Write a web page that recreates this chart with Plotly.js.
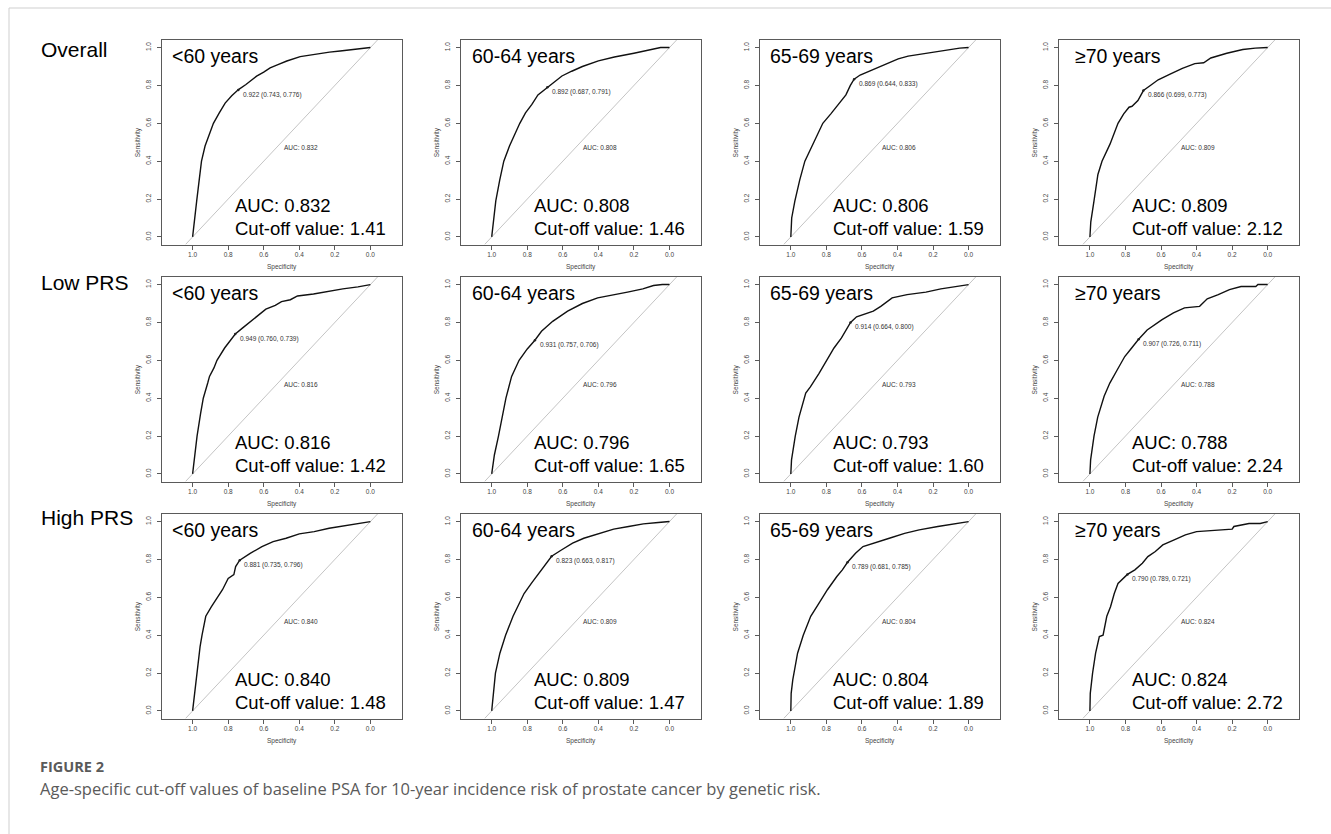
<!DOCTYPE html>
<html>
<head>
<meta charset="utf-8">
<script src="https://cdn.plot.ly/plotly-3.0.1.min.js"></script>
<style>
html,body{margin:0;padding:0;background:#fff;}
#chart{width:1331px;height:834px;}
</style>
</head>
<body>
<div id="chart"></div>
<script>
// ---------------- DATA ----------------
const rowLabels = ["Overall", "Low PRS", "High PRS"];
const ageGroups = ["<60 years", "60-64 years", "65-69 years", "\u226570 years"];
const aucValues = [
  [0.832, 0.808, 0.806, 0.809],
  [0.816, 0.796, 0.793, 0.788],
  [0.840, 0.809, 0.804, 0.824]
];
const cutoffValues = [
  ["1.41", "1.46", "1.59", "2.12"],
  ["1.42", "1.65", "1.60", "2.24"],
  ["1.48", "1.47", "1.89", "2.72"]
];
const thresholdValues = [
  [0.922, 0.892, 0.869, 0.866],
  [0.949, 0.931, 0.914, 0.907],
  [0.881, 0.823, 0.789, 0.790]
];
const thresholdSpec = [
  [0.743, 0.687, 0.644, 0.699],
  [0.760, 0.757, 0.664, 0.726],
  [0.735, 0.663, 0.681, 0.789]
];
const thresholdSens = [
  [0.776, 0.791, 0.833, 0.773],
  [0.739, 0.706, 0.800, 0.711],
  [0.796, 0.817, 0.785, 0.721]
];
const xTickValues = [1.0, 0.8, 0.6, 0.4, 0.2, 0.0];
const xTickLabels = ["1.0", "0.8", "0.6", "0.4", "0.2", "0.0"];
const yTickValues = [0.0, 0.2, 0.4, 0.6, 0.8, 1.0];
const yTickLabels = ["0.0", "0.2", "0.4", "0.6", "0.8", "1.0"];

// ROC curves (specificity, sensitivity)
const overall_lt60_spec = [1.0,0.992,0.977,0.963,0.95,0.93,0.905,0.883,0.85,0.817,0.78,0.742,0.70,0.64,0.60,0.564,0.52,0.47,0.395,0.30,0.23,0.17,0.10,0.04,0.0];
const overall_lt60_sens = [0.0,0.08,0.19,0.30,0.40,0.48,0.55,0.60,0.655,0.707,0.745,0.778,0.805,0.849,0.87,0.893,0.91,0.929,0.952,0.968,0.976,0.982,0.99,0.995,1.0];

const overall_6064_spec = [1.0,0.99,0.977,0.955,0.932,0.90,0.87,0.842,0.81,0.774,0.74,0.687,0.65,0.605,0.55,0.49,0.40,0.31,0.20,0.13,0.085,0.05,0.0];
const overall_6064_sens = [0.0,0.08,0.19,0.30,0.40,0.48,0.545,0.60,0.655,0.70,0.75,0.791,0.82,0.85,0.875,0.90,0.93,0.95,0.97,0.985,0.995,1.0,1.0];

const overall_6569_spec = [1.0,0.995,0.977,0.95,0.921,0.876,0.82,0.775,0.735,0.69,0.665,0.644,0.61,0.55,0.50,0.44,0.396,0.34,0.27,0.20,0.11,0.05,0.0];
const overall_6569_sens = [0.0,0.10,0.19,0.30,0.40,0.49,0.60,0.65,0.70,0.75,0.80,0.833,0.855,0.88,0.90,0.925,0.94,0.955,0.965,0.975,0.99,0.997,1.0];

const overall_ge70_spec = [1.0,0.995,0.977,0.955,0.932,0.887,0.842,0.81,0.78,0.763,0.73,0.699,0.66,0.616,0.549,0.48,0.41,0.36,0.32,0.23,0.14,0.07,0.0];
const overall_ge70_sens = [0.0,0.08,0.19,0.33,0.40,0.49,0.60,0.65,0.685,0.69,0.72,0.773,0.80,0.83,0.86,0.89,0.915,0.92,0.945,0.97,0.99,0.997,1.0];

const low_lt60_spec = [1.0,0.99,0.975,0.955,0.94,0.915,0.905,0.88,0.863,0.82,0.79,0.76,0.72,0.693,0.64,0.588,0.535,0.50,0.45,0.41,0.32,0.24,0.155,0.07,0.0];
const low_lt60_sens = [0.0,0.08,0.20,0.32,0.40,0.48,0.515,0.56,0.60,0.665,0.70,0.739,0.77,0.79,0.83,0.87,0.89,0.91,0.92,0.94,0.95,0.965,0.977,0.988,1.0];

const low_6064_spec = [1.0,0.985,0.962,0.94,0.92,0.888,0.846,0.80,0.757,0.72,0.657,0.573,0.49,0.404,0.32,0.236,0.15,0.09,0.04,0.0];
const low_6064_sens = [0.0,0.10,0.20,0.30,0.40,0.515,0.60,0.66,0.706,0.753,0.806,0.86,0.90,0.93,0.947,0.96,0.977,0.995,1.0,1.0];

const low_6569_spec = [1.0,0.996,0.975,0.954,0.916,0.89,0.842,0.80,0.757,0.715,0.664,0.63,0.60,0.536,0.494,0.43,0.346,0.24,0.156,0.07,0.0];
const low_6569_sens = [0.0,0.074,0.20,0.30,0.427,0.46,0.53,0.60,0.665,0.718,0.80,0.83,0.84,0.86,0.885,0.93,0.947,0.96,0.977,0.99,1.0];

const low_ge70_spec = [1.0,0.996,0.977,0.956,0.92,0.888,0.846,0.804,0.773,0.726,0.678,0.594,0.53,0.468,0.383,0.34,0.278,0.215,0.15,0.067,0.055,0.0];
const low_ge70_sens = [0.0,0.074,0.20,0.30,0.41,0.48,0.55,0.62,0.656,0.711,0.76,0.815,0.85,0.877,0.885,0.925,0.947,0.973,0.99,0.99,1.0,1.0];

const high_lt60_spec = [1.0,0.99,0.979,0.958,0.947,0.926,0.895,0.863,0.832,0.80,0.768,0.758,0.735,0.674,0.61,0.547,0.474,0.40,0.316,0.232,0.147,0.063,0.0];
const high_lt60_sens = [0.0,0.08,0.20,0.34,0.40,0.50,0.55,0.595,0.64,0.70,0.72,0.762,0.796,0.833,0.868,0.894,0.912,0.935,0.947,0.965,0.977,0.988,1.0];

const high_6064_spec = [1.0,0.99,0.979,0.954,0.922,0.88,0.818,0.776,0.734,0.70,0.663,0.608,0.545,0.482,0.398,0.314,0.23,0.147,0.063,0.0];
const high_6064_sens = [0.0,0.08,0.20,0.305,0.40,0.50,0.62,0.675,0.727,0.77,0.817,0.85,0.886,0.912,0.938,0.96,0.974,0.988,0.995,1.0];

const high_6569_spec = [1.0,0.998,0.989,0.962,0.93,0.888,0.836,0.794,0.741,0.71,0.681,0.636,0.594,0.53,0.446,0.36,0.278,0.173,0.088,0.0];
const high_6569_sens = [0.0,0.093,0.164,0.305,0.40,0.50,0.577,0.64,0.71,0.745,0.785,0.833,0.868,0.886,0.912,0.938,0.956,0.974,0.988,1.0];

const high_ge70_spec = [1.0,0.998,0.985,0.968,0.947,0.926,0.905,0.884,0.863,0.842,0.789,0.747,0.705,0.674,0.632,0.59,0.526,0.463,0.40,0.30,0.20,0.19,0.105,0.042,0.0];
const high_ge70_sens = [0.0,0.093,0.20,0.305,0.393,0.40,0.50,0.55,0.62,0.673,0.721,0.745,0.78,0.815,0.842,0.877,0.903,0.93,0.947,0.953,0.96,0.974,0.99,0.99,1.0];

const curveSpec = [
  [overall_lt60_spec, overall_6064_spec, overall_6569_spec, overall_ge70_spec],
  [low_lt60_spec, low_6064_spec, low_6569_spec, low_ge70_spec],
  [high_lt60_spec, high_6064_spec, high_6569_spec, high_ge70_spec]
];
const curveSens = [
  [overall_lt60_sens, overall_6064_sens, overall_6569_sens, overall_ge70_sens],
  [low_lt60_sens, low_6064_sens, low_6569_sens, low_ge70_sens],
  [high_lt60_sens, high_6064_sens, high_6569_sens, high_ge70_sens]
];

// ---------------- LAYOUT ----------------
const W = 1331, H = 834;
const boxLeft0 = 161.5, colStep = 299.1, boxW = 240;
const boxTop0 = 40, rowStep = 237, boxH = 204.5;
const xRange = [1.175, -0.175];
const yRange = [-0.04, 1.04];
const titleX = [1.125, 1.12, 1.13, 1.095];

const FONT = "Liberation Sans, Arial, sans-serif";
const traces = [];
const annotations = [];
const layout = {
  width: W, height: H,
  margin: {l: 0, r: 0, t: 0, b: 0},
  paper_bgcolor: "#fff", plot_bgcolor: "#fff",
  showlegend: false,
  font: {family: FONT, color: "#333"},
  shapes: [
    {type: "line", xref: "paper", yref: "paper", x0: 9/W, x1: 1, y0: 1 - 8/H, y1: 1 - 8/H, line: {color: "#cfcfcf", width: 1}},
    {type: "line", xref: "paper", yref: "paper", x0: 9/W, x1: 9/W, y0: 1 - 8/H, y1: 0, line: {color: "#cfcfcf", width: 1}}
  ]
};

for (let r = 0; r < 3; r++) {
  for (let c = 0; c < 4; c++) {
    const i = r * 4 + c + 1;
    const xa = "x" + (i === 1 ? "" : i), ya = "y" + (i === 1 ? "" : i);
    const xk = "xaxis" + (i === 1 ? "" : i), yk = "yaxis" + (i === 1 ? "" : i);
    const left = boxLeft0 + colStep * c, top = boxTop0 + rowStep * r;
    layout[xk] = {
      domain: [left / W, (left + boxW) / W],
      anchor: ya, range: xRange, autorange: false,
      tickvals: xTickValues, ticktext: xTickLabels,
      showline: true, mirror: true, linecolor: "#5a5a5a", linewidth: 1,
      ticks: "outside", ticklen: 4, tickcolor: "#5a5a5a", tickwidth: 1,
      tickfont: {size: 6.5, color: "#444", family: FONT},
      showgrid: false, zeroline: false, fixedrange: true
    };
    layout[yk] = {
      domain: [1 - (top + boxH) / H, 1 - top / H],
      anchor: xa, range: yRange, autorange: false,
      tickvals: yTickValues, ticktext: yTickLabels, tickangle: -90,
      showline: true, mirror: true, linecolor: "#5a5a5a", linewidth: 1,
      ticks: "outside", ticklen: 4, tickcolor: "#5a5a5a", tickwidth: 1,
      ticklabelstandoff: 3,
      tickfont: {size: 6.5, color: "#444", family: FONT},
      showgrid: false, zeroline: false, fixedrange: true
    };
    // diagonal reference line y = 1 - x across the plotting region
    traces.push({
      x: [1 - yRange[0], 1 - yRange[1]], y: [yRange[0], yRange[1]],
      xaxis: xa, yaxis: ya, mode: "lines", hoverinfo: "skip",
      line: {color: "#c4c4c4", width: 1}
    });
    // ROC curve
    traces.push({
      x: curveSpec[r][c], y: curveSens[r][c],
      xaxis: xa, yaxis: ya, mode: "lines",
      line: {color: "#111", width: 1.4}
    });
    // best threshold point
    traces.push({
      x: [thresholdSpec[r][c]], y: [thresholdSens[r][c]],
      xaxis: xa, yaxis: ya, mode: "markers",
      marker: {color: "#222", size: 2.5}
    });
    // texts
    annotations.push({
      xref: xa, yref: ya, x: titleX[c], y: 0.953, xanchor: "left", yanchor: "middle",
      text: ageGroups[c], showarrow: false, font: {size: 19.5, color: "#000", family: FONT}
    });
    annotations.push({
      xref: xa, yref: ya, x: 0.775, y: 0.165, xanchor: "left", yanchor: "middle",
      text: "AUC: " + aucValues[r][c].toFixed(3), showarrow: false,
      font: {size: 18.5, color: "#000", family: FONT}
    });
    annotations.push({
      xref: xa, yref: ya, x: 0.775, y: 0.045, xanchor: "left", yanchor: "middle",
      text: "Cut-off value: " + cutoffValues[r][c], showarrow: false,
      font: {size: 18.5, color: "#000", family: FONT}
    });
    annotations.push({
      xref: xa, yref: ya, x: 0.5, y: 0.5, xanchor: "left", yanchor: "top",
      text: "AUC: " + aucValues[r][c].toFixed(3), showarrow: false,
      font: {size: 6.5, color: "#333", family: FONT}
    });
    annotations.push({
      xref: xa, yref: ya, x: thresholdSpec[r][c] - 0.015, y: thresholdSens[r][c] - 0.025,
      xanchor: "left", yanchor: "middle",
      text: thresholdValues[r][c].toFixed(3) + " (" + thresholdSpec[r][c].toFixed(3) + ", " + thresholdSens[r][c].toFixed(3) + ")",
      showarrow: false, font: {size: 6.5, color: "#333", family: FONT}
    });
    annotations.push({
      xref: xa + " domain", yref: ya + " domain", x: 0.5, y: 0, yshift: -22.5,
      xanchor: "center", yanchor: "middle", text: "Specificity", showarrow: false,
      font: {size: 6.5, color: "#444", family: FONT}
    });
    annotations.push({
      xref: xa + " domain", yref: ya + " domain", x: 0, y: 0.5, xshift: -23.5,
      xanchor: "center", yanchor: "middle", textangle: -90, text: "Sensitivity", showarrow: false,
      font: {size: 6.5, color: "#444", family: FONT}
    });
  }
}

// row labels
const rowLabelY = [50, 282, 517];
rowLabels.forEach((lab, r) => {
  annotations.push({
    xref: "paper", yref: "paper", x: 39 / W, y: 1 - rowLabelY[r] / H,
    xanchor: "left", yanchor: "middle", text: lab, showarrow: false,
    font: {size: 21, color: "#000", family: FONT}
  });
});

// figure caption
annotations.push({
  xref: "paper", yref: "paper", x: 39 / W, y: 1 - 766 / H, xanchor: "left", yanchor: "middle",
  text: "<b>FIGURE 2</b>", showarrow: false, borderpad: 0,
  font: {size: 14.5, color: "#5a5a5a", family: "Open Sans, sans-serif"}
});
annotations.push({
  xref: "paper", yref: "paper", x: 39 / W, y: 1 - 788 / H, xanchor: "left", yanchor: "middle",
  text: "Age-specific cut-off values of baseline PSA for 10-year incidence risk of prostate cancer by genetic risk.",
  showarrow: false, borderpad: 0, font: {size: 16.5, color: "#5a5a5a", family: "Open Sans, sans-serif"}
});

layout.annotations = annotations;
Plotly.newPlot("chart", traces, layout, {staticPlot: true, displayModeBar: false});
</script>
</body>
</html>
